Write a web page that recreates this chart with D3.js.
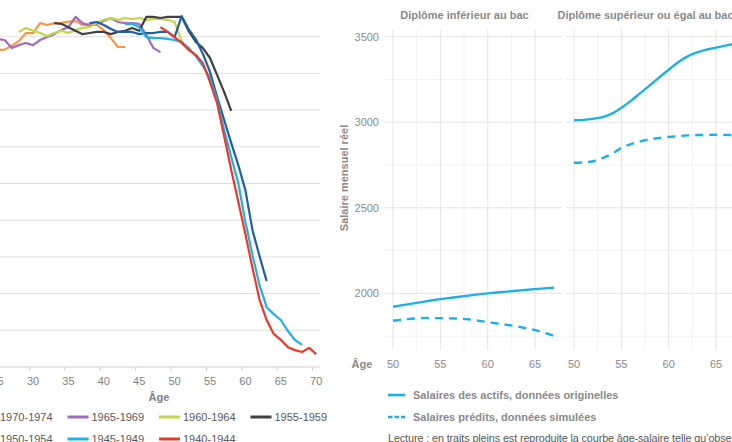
<!DOCTYPE html>
<html>
<head>
<meta charset="utf-8">
<script src="https://cdn.jsdelivr.net/npm/d3@7"></script>
<style>
  body { margin: 0; background: #fff; }
  svg { display: block; font-family: "Liberation Sans", Arial, sans-serif; }
</style>
</head>
<body>
<svg id="chart" width="732" height="442"></svg>
<script>
// ---- left chart : taux d'emploi par génération ----
var cohortLabels = ["1970-1974", "1965-1969", "1960-1964", "1955-1959", "1950-1954", "1945-1949", "1940-1944"];
var cohortColors = ["#f79646", "#a06cc0", "#c4d74a", "#404040", "#1f5fa8", "#1cb2e8", "#e8392a"];
var cohortFirstAge = [25, 25, 28, 33, 38, 43, 48];

var emp1970 = [86.4, 86.5, 87.5, 88.8, 91, 91, 93.7, 93.2, 93.7, 93.8, 94.1, 94.3, 93.2, 93.5, 93.2, 91.8, 89.6, 87.2, 87.2];
var emp1965 = [89.4, 89.1, 86.9, 87.7, 88.3, 87.7, 89.1, 89.9, 90.7, 91.8, 92.6, 95.4, 93.7, 92.9, 93.5, 94.3, 95.1, 94,
               93.7, 93.7, 93.5, 90.5, 86.9, 85.8];
var emp1960 = [91.3, 92.4, 91.6, 91, 90.2, 91, 91.6, 91, 91.8, 92.4, 92.6, 93.7, 94.6, 95.1, 94.6, 95.1, 94.8, 95.1,
               94.6, 94.8, 94.8, 94.6, 94, 88.8];
var emp1955 = [93.7, 93.5, 92.6, 91.6, 90.7, 91, 91.3, 91.3, 90.7, 91.3, 91.6, 92.4, 91.6, 95.4, 95.4, 95.1, 95.4,
               95.4, 95.4, 91.5, 88.6, 86.9, 84.2, 79.6, 74.9, 69.8];
var emp1950 = [93.7, 94, 93.2, 92.1, 91.3, 91.3, 91.3, 90.7, 91, 91, 91.3, 91.3, 89.9, 95.6, 92, 89.3, 85.3, 80.4,
               73.6, 67.3, 61, 55, 48.2, 37.3, 30.2, 23.4];
var emp1945 = [93.5, 93.5, 92.6, 89.9, 89.6, 89.6, 89.4, 89.1, 88.6, 86.9, 84.7, 82, 78.7, 72.8, 64.6, 57.2, 50.1,
               39.5, 30.5, 22.3, 16.3, 14.4, 12.8, 9.8, 7.4, 6];
var emp1940 = [92.6, 91.3, 89.9, 88.3, 86.4, 85, 82.8, 77.7, 71.9, 62.9, 53.7, 45, 36.2, 27, 18.3, 12.8, 9, 7.4,
               5.4, 4.6, 4.1, 5.2, 3.5];
var cohortValues = [emp1970, emp1965, emp1960, emp1955, emp1950, emp1945, emp1940];

var leftAgeTicks = [25, 30, 35, 40, 45, 50, 55, 60, 65, 70];
var leftGrid = [10, 20, 30, 40, 50, 60, 70, 80, 90];

// ---- right chart : salaire mensuel réel ----
var rightAges = [50, 51, 52, 53, 54, 55, 56, 57, 58, 59, 60, 61, 62, 63, 64, 65, 66, 67];
var facetTitles = ["Diplôme inférieur au bac", "Diplôme supérieur ou égal au bac"];
var salSolidLow  = [1922, 1931, 1940, 1949, 1958, 1966, 1973, 1980, 1987, 1994, 2000, 2005, 2010, 2015, 2020, 2025, 2029, 2033];
var salDashLow   = [1840, 1847, 1852, 1855, 1856, 1855, 1854, 1852, 1848, 1840, 1832, 1824, 1816, 1808, 1797, 1785, 1769, 1751];
var salSolidHigh = [3012, 3014, 3020, 3030, 3050, 3085, 3125, 3170, 3215, 3262, 3307, 3350, 3385, 3408, 3424, 3436, 3448, 3460];
var salDashHigh  = [2763, 2765, 2772, 2790, 2815, 2850, 2872, 2888, 2900, 2908, 2914, 2919, 2923, 2925, 2926, 2927, 2926, 2925];
var rightYTicks = [2000, 2500, 3000, 3500];
var rightYMinor = [1750, 2250, 2750, 3250];
var rightXTicks = [50, 55, 60, 65];
var rightXMinor = [52.5, 57.5, 62.5];
var legendLabels = ["Salaires des actifs, données originelles", "Salaires prédits, données simulées"];
var noteText = "Lecture : en traits pleins est reproduite la courbe âge-salaire telle qu’observée";

var svg = d3.select("#chart");

// ================= left =================
var xL = d3.scaleLinear().domain([25, 70]).range([-2.4, 316.2]);
var yL = d3.scaleLinear().domain([0, 100]).range([367, 0]);

var left = svg.append("g");

left.selectAll(".gridL")
    .data(leftGrid)
    .enter().append("line")
    .attr("x1", 0).attr("x2", 320)
    .attr("y1", function(d) { return yL(d); })
    .attr("y2", function(d) { return yL(d); })
    .attr("stroke", "#dedede");

left.append("line")
    .attr("x1", 0).attr("x2", 320)
    .attr("y1", yL(0)).attr("y2", yL(0))
    .attr("stroke", "#cfcfcf");

// ticks sit between categories, like excel
left.selectAll(".tickL")
    .data(leftAgeTicks)
    .enter().append("line")
    .attr("x1", function(d) { return xL(d - 0.5); })
    .attr("x2", function(d) { return xL(d - 0.5); })
    .attr("y1", yL(0)).attr("y2", yL(0) + 4)
    .attr("stroke", "#cfcfcf");

left.selectAll(".lblL")
    .data(leftAgeTicks)
    .enter().append("text")
    .attr("x", function(d) { return xL(d); })
    .attr("y", 385)
    .attr("text-anchor", "middle")
    .attr("font-size", 11)
    .attr("fill", "#7f7f7f")
    .text(function(d) { return d; });

left.append("text")
    .attr("x", 159).attr("y", 401)
    .attr("text-anchor", "middle")
    .attr("font-size", 11)
    .attr("font-weight", "bold")
    .attr("fill", "#7f7f7f")
    .text("Âge");

var lineL = d3.line()
    .x(function(d) { return xL(d[0]); })
    .y(function(d) { return yL(d[1]); });

cohortValues.forEach(function(vals, i) {
    var pts = vals.map(function(v, k) { return [cohortFirstAge[i] + k, v]; });
    left.append("path")
        .datum(pts)
        .attr("fill", "none")
        .attr("stroke", cohortColors[i])
        .attr("stroke-width", 2.2)
        .attr("stroke-linejoin", "round")
        .attr("d", lineL);
});

// legend, 4 per row
var legL = left.selectAll(".legL")
    .data(cohortLabels)
    .enter().append("g")
    .attr("transform", function(d, i) {
        return "translate(" + (-92 + (i % 4) * 91.5) + "," + (417 + Math.floor(i / 4) * 22) + ")";
    });
legL.append("line")
    .attr("x1", 68).attr("x2", 89)
    .attr("stroke", function(d, i) { return cohortColors[i]; })
    .attr("stroke-width", 3);
legL.append("text")
    .attr("x", 92).attr("y", 4)
    .attr("font-size", 11)
    .attr("fill", "#595959")
    .text(function(d) { return d; });

// ================= right =================
var yR = d3.scaleLinear().domain([1669, 3539]).range([350, 30]);
var panels = [
    { x: d3.scaleLinear().domain([49.15, 67.85]).range([385, 562]), solid: salSolidLow, dash: salDashLow },
    { x: d3.scaleLinear().domain([49.15, 67.85]).range([566, 743]), solid: salSolidHigh, dash: salDashHigh }
];
var blue = "#1bb1e7";
var gray = "#8a8a8a";

panels.forEach(function(p, pi) {
    var g = svg.append("g");
    var r = p.x.range();

    g.selectAll(".minH").data(rightYMinor).enter().append("line")
        .attr("x1", r[0]).attr("x2", r[1])
        .attr("y1", function(d) { return yR(d); }).attr("y2", function(d) { return yR(d); })
        .attr("stroke", "#f3f3f3");
    g.selectAll(".minV").data(rightXMinor).enter().append("line")
        .attr("x1", function(d) { return p.x(d); }).attr("x2", function(d) { return p.x(d); })
        .attr("y1", 30).attr("y2", 350)
        .attr("stroke", "#f3f3f3");
    g.selectAll(".majH").data(rightYTicks).enter().append("line")
        .attr("x1", r[0]).attr("x2", r[1])
        .attr("y1", function(d) { return yR(d); }).attr("y2", function(d) { return yR(d); })
        .attr("stroke", "#e4e4e4");
    g.selectAll(".majV").data(rightXTicks).enter().append("line")
        .attr("x1", function(d) { return p.x(d); }).attr("x2", function(d) { return p.x(d); })
        .attr("y1", 30).attr("y2", 350)
        .attr("stroke", "#e4e4e4");

    g.selectAll(".xl").data(rightXTicks).enter().append("text")
        .attr("x", function(d) { return p.x(d); })
        .attr("y", 368)
        .attr("text-anchor", "middle")
        .attr("font-size", 11)
        .attr("fill", gray)
        .text(function(d) { return d; });

    g.append("text")
        .attr("x", (r[0] + r[1]) / 2 - 9).attr("y", 19)
        .attr("text-anchor", "middle")
        .attr("font-size", 11)
        .attr("font-weight", "bold")
        .attr("fill", gray)
        .text(facetTitles[pi]);

    var line = d3.line()
        .x(function(d, k) { return p.x(rightAges[k]); })
        .y(function(d) { return yR(d); })
        .curve(d3.curveMonotoneX);

    g.append("path").datum(p.solid)
        .attr("fill", "none").attr("stroke", blue).attr("stroke-width", 2.4)
        .attr("d", line);
    g.append("path").datum(p.dash)
        .attr("fill", "none").attr("stroke", blue).attr("stroke-width", 2.4)
        .attr("stroke-dasharray", "8,6")
        .attr("d", line);
});

svg.selectAll(".yl").data(rightYTicks).enter().append("text")
    .attr("x", 379)
    .attr("y", function(d) { return yR(d) + 4; })
    .attr("text-anchor", "end")
    .attr("font-size", 11)
    .attr("fill", gray)
    .text(function(d) { return d; });

svg.append("text")
    .attr("transform", "translate(348,178) rotate(-90)")
    .attr("text-anchor", "middle")
    .attr("font-size", 11)
    .attr("font-weight", "bold")
    .attr("fill", gray)
    .text("Salaire mensuel réel");

svg.append("text")
    .attr("x", 362).attr("y", 368)
    .attr("text-anchor", "middle")
    .attr("font-size", 11)
    .attr("font-weight", "bold")
    .attr("fill", gray)
    .text("Âge");

var legR = svg.selectAll(".legR").data(legendLabels).enter().append("g")
    .attr("transform", function(d, i) { return "translate(388," + (395 + i * 22) + ")"; });
legR.append("line")
    .attr("x1", 0).attr("x2", 17)
    .attr("stroke", blue).attr("stroke-width", 2.6)
    .attr("stroke-dasharray", function(d, i) { return i ? "4.5,2" : null; });
legR.append("text")
    .attr("x", 25).attr("y", 4)
    .attr("font-size", 11)
    .attr("font-weight", "bold")
    .attr("fill", gray)
    .text(function(d) { return d; });

svg.append("text")
    .attr("x", 388).attr("y", 442)
    .attr("font-size", 10.8)
    .attr("letter-spacing", -0.1)
    .attr("fill", "#555")
    .text(noteText);
</script>
</body>
</html>
